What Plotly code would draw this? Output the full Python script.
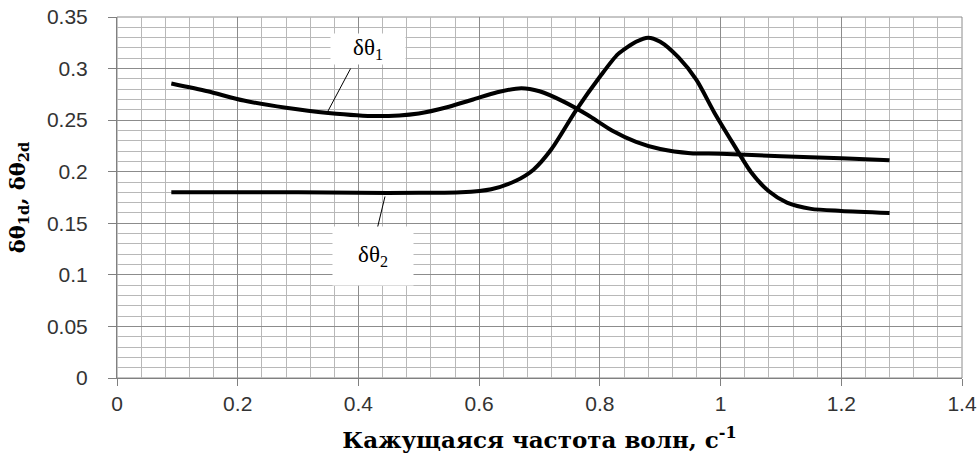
import plotly.graph_objects as go

# кажущаяся частота волн, 1/c
freq_1 = [0.09, 0.15, 0.21, 0.28, 0.35, 0.43, 0.50, 0.55, 0.59, 0.63, 0.67, 0.70, 0.74, 0.78, 0.82, 0.86, 0.90, 0.95, 1.00, 1.10, 1.20, 1.28]
dtheta_1 = [0.2855, 0.278, 0.269, 0.262, 0.257, 0.254, 0.2565, 0.263, 0.270, 0.277, 0.281, 0.278, 0.268, 0.255, 0.240, 0.229, 0.222, 0.218, 0.2175, 0.215, 0.213, 0.211]

freq_2 = [0.09, 0.20, 0.30, 0.40, 0.50, 0.57, 0.62, 0.66, 0.69, 0.72, 0.76, 0.80, 0.83, 0.86, 0.88, 0.90, 0.93, 0.96, 0.99, 1.02, 1.05, 1.08, 1.11, 1.15, 1.20, 1.28]
dtheta_2 = [0.180, 0.180, 0.180, 0.1795, 0.1795, 0.180, 0.183, 0.191, 0.202, 0.222, 0.259, 0.292, 0.314, 0.326, 0.330, 0.326, 0.311, 0.289, 0.257, 0.228, 0.200, 0.181, 0.170, 0.164, 0.162, 0.160]

x_title = "Кажущаяся частота волн, с<sup>-1</sup>"
y_title = "δθ<sub>1d</sub>, δθ<sub>2d</sub>"

fig = go.Figure()
fig.add_trace(go.Scatter(x=freq_1, y=dtheta_1, mode="lines", name="δθ1",
                         line=dict(color="black", width=4, shape="spline", smoothing=0.7)))
fig.add_trace(go.Scatter(x=freq_2, y=dtheta_2, mode="lines", name="δθ2",
                         line=dict(color="black", width=4, shape="spline", smoothing=0.7)))

# leader lines for the curve labels
fig.add_shape(type="line", x0=0.347, y0=0.256, x1=0.387, y1=0.300, line=dict(color="black", width=1))
fig.add_shape(type="line", x0=0.444, y0=0.176, x1=0.430, y1=0.142, line=dict(color="black", width=1))
# grey frame at top/right
fig.add_shape(type="rect", xref="paper", yref="paper", x0=0, y0=0, x1=1, y1=1,
              line=dict(color="#8c8c8c", width=1), layer="below")

lab_font = dict(family="Liberation Serif", size=23, color="black")
fig.add_annotation(x=0.416, y=0.319, text="δθ<sub>1</sub>", showarrow=False, font=lab_font,
                   bgcolor="white", width=72, height=28)
fig.add_annotation(x=0.424, y=0.118, text="δθ<sub>2</sub>", showarrow=False, font=lab_font,
                   bgcolor="white", width=78, height=56)

tick_font = dict(family="Liberation Sans", size=21, color="#333333")

fig.update_layout(
    width=979, height=465,
    margin=dict(l=117, r=17, t=17, b=87, autoexpand=False),
    paper_bgcolor="white", plot_bgcolor="white",
    showlegend=False,
    xaxis=dict(range=[0, 1.4], dtick=0.2, tick0=0, showgrid=True, gridcolor="#8c8c8c", gridwidth=1,
               minor=dict(dtick=0.04, showgrid=True, gridcolor="#b8b8b8", gridwidth=1),
               showline=True, linecolor="#808080", linewidth=1, zeroline=False,
               ticks="outside", ticklen=7, tickcolor="#808080", tickfont=tick_font,
               ticklabeloverflow="allow",
               title=dict(text="<b>" + x_title + "</b>", font=dict(family="DejaVu Serif", size=23, color="black"),
                          standoff=17)),
    yaxis=dict(range=[0, 0.35], dtick=0.05, tick0=0, showgrid=True, gridcolor="#8c8c8c", gridwidth=1,
               minor=dict(dtick=0.01, showgrid=True, gridcolor="#b8b8b8", gridwidth=1),
               showline=True, linecolor="#808080", linewidth=1, zeroline=False,
               ticks="outside", ticklen=8, tickcolor="#808080", tickfont=tick_font,
               ticklabelstandoff=16, ticklabeloverflow="allow",
               title=dict(text="<b>" + y_title + "</b>", font=dict(family="DejaVu Serif", size=21, color="black"),
                          standoff=15)),
)

# drop the default body margin so the figure fills the window exactly
fig.write_html("out.html", config={"displayModeBar": False},
               post_script="document.body.style.margin='0';")
